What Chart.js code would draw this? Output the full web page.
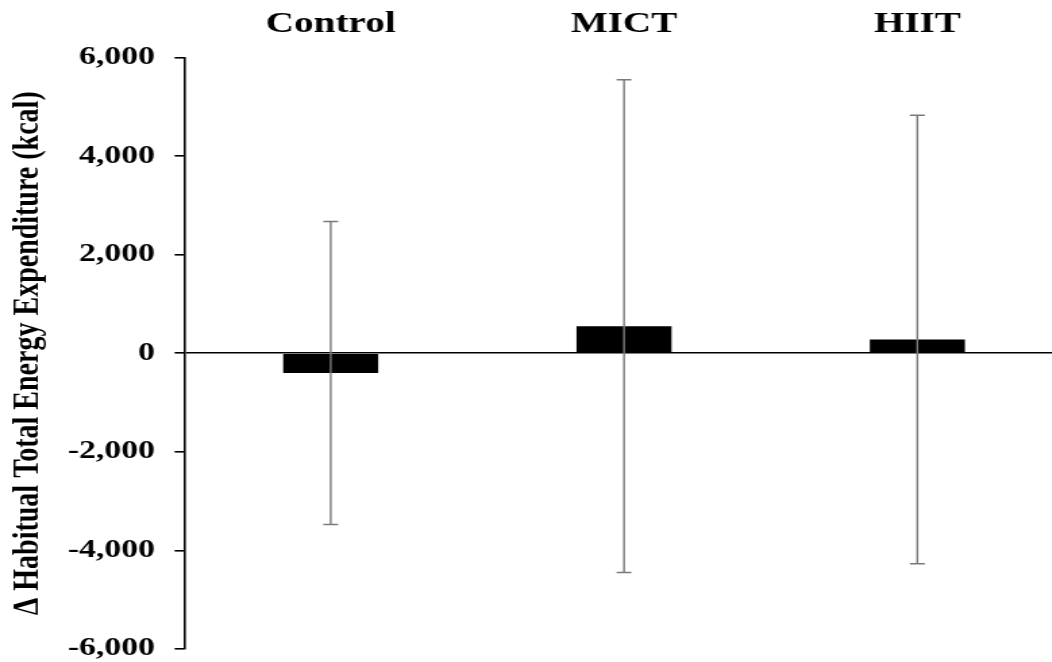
<!DOCTYPE html>
<html>
<head>
<meta charset="utf-8">
<script src="https://cdn.jsdelivr.net/npm/chart.js@4/dist/chart.umd.min.js"></script>
<style>
  html, body { margin: 0; padding: 0; background: #fff; }
  #wrap { width: 1052px; height: 662px; overflow: hidden; position: relative; }
</style>
</head>
<body>
<div id="wrap">
  <!-- drawing buffer is narrower than its box, so the figure is widened horizontally -->
  <canvas id="c" width="788" height="662" style="width:1064px;height:662px;display:block;"></canvas>
</div>
<script>
// Groups and change in habitual total energy expenditure (kcal)
const groups = ['Control', 'MICT', 'HIIT'];
const meanChange = [-400, 550, 280];
const sdChange = [3075, 5000, 4550];
const yTickValues = [-6000, -4000, -2000, 0, 2000, 4000, 6000];

const SERIF = '"Liberation Serif", "Times New Roman", serif';

// Vertical error bars with end caps, drawn over the bars
const errorBars = {
  id: 'errorBars',
  afterDatasetsDraw(chart) {
    const ctx = chart.ctx;
    const meta = chart.getDatasetMeta(0);
    const y = chart.scales.y;
    ctx.save();
    ctx.strokeStyle = '#7a7a7a';
    meta.data.forEach((bar, i) => {
      const x = bar.x;
      const top = y.getPixelForValue(meanChange[i] + sdChange[i]);
      const bottom = y.getPixelForValue(meanChange[i] - sdChange[i]);
      ctx.lineWidth = 1.4;
      ctx.beginPath();
      ctx.moveTo(x, top);
      ctx.lineTo(x, bottom);
      ctx.stroke();
      ctx.lineWidth = 1.5;
      ctx.beginPath();
      ctx.moveTo(x - 5.5, top);
      ctx.lineTo(x + 5.5, top);
      ctx.moveTo(x - 5.5, bottom);
      ctx.lineTo(x + 5.5, bottom);
      ctx.stroke();
    });
    ctx.restore();
  }
};

new Chart(document.getElementById('c'), {
  type: 'bar',
  data: {
    labels: groups,
    datasets: [{
      data: meanChange,
      backgroundColor: '#000',
      borderWidth: 0,
      categoryPercentage: 1,
      barPercentage: 0.324
    }]
  },
  options: {
    responsive: false,
    animation: false,
    devicePixelRatio: 1,
    layout: { padding: { left: 0, right: 0, top: 0, bottom: 13 } },
    plugins: { legend: { display: false }, tooltip: { enabled: false } },
    scales: {
      x: {
        position: 'top',
        grid: { display: false },
        border: { display: false },
        ticks: {
          color: '#000',
          padding: 8,
          font: { family: SERIF, size: 29, weight: 'bold', lineHeight: 1.2 }
        },
        afterFit(scale) {
          scale.height = 57.5;
          scale.paddingLeft = 0;
          scale.paddingRight = 0;
        }
      },
      y: {
        min: -6000,
        max: 6000,
        afterBuildTicks(scale) { scale.ticks = yTickValues.map(v => ({ value: v })); },
        grid: {
          color: ctx => (ctx.tick && ctx.tick.value === 0 ? '#000' : 'rgba(0,0,0,0)'),
          tickColor: '#000',
          lineWidth: 1.6,
          tickLength: 7,
          drawOnChartArea: true
        },
        border: { display: true, color: '#000', width: 1.6 },
        ticks: {
          color: '#000',
          padding: 14.5,
          font: { family: SERIF, size: 25, weight: 'bold', lineHeight: 1 },
          callback: v => Number(v).toLocaleString('en-US')
        },
        title: {
          display: true,
          text: 'Δ Habitual Total Energy Expenditure (kcal)',
          color: '#000',
          padding: { top: 4, bottom: 0 },
          font: { family: SERIF, size: 28, weight: 'bold', lineHeight: 1.2 }
        },
        afterFit(scale) {
          scale.width = 136.3;
          scale.paddingTop = 0;
          scale.paddingBottom = 0;
        }
      }
    }
  },
  plugins: [errorBars]
});
</script>
</body>
</html>
